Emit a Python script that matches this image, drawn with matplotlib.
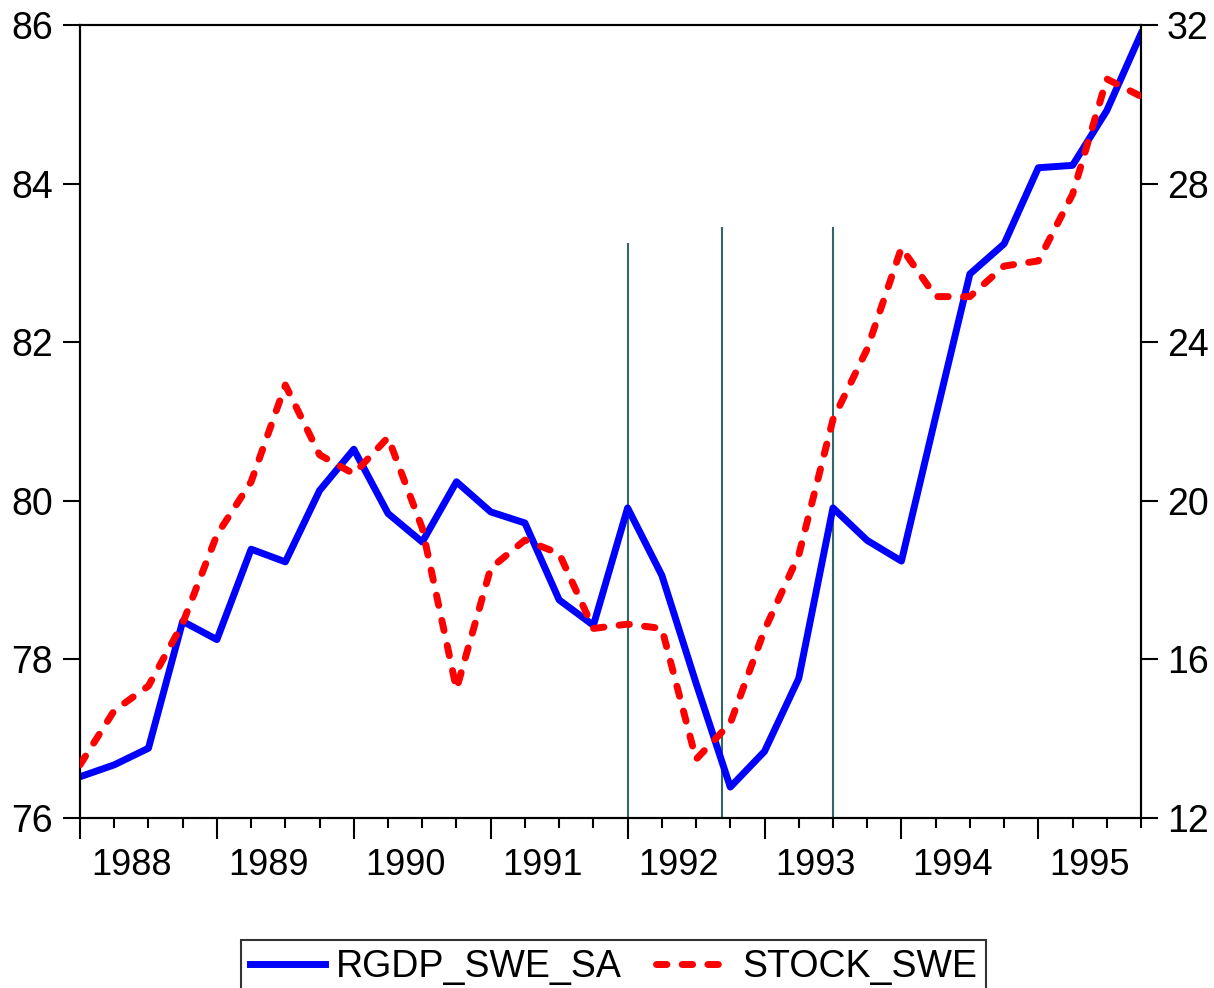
import numpy as np
import matplotlib
matplotlib.use('Agg')
import matplotlib.pyplot as plt
from matplotlib.lines import Line2D
import matplotlib.transforms as mtransforms

plt.rcParams['font.family'] = ['Liberation Sans', 'DejaVu Sans']

# quarterly series, 1988Q1 .. 1995Q4
years = [1988, 1989, 1990, 1991, 1992, 1993, 1994, 1995]
rgdp_swe_sa = [76.52, 76.67, 76.88, 78.48, 78.25, 79.39, 79.23, 80.13,
               80.65, 79.84, 79.48, 80.24, 79.86, 79.72, 78.75, 78.43,
               79.91, 79.06, 77.70, 76.39, 76.84, 77.76, 79.91, 79.50,
               79.24, 81.06, 82.86, 83.24, 84.20, 84.23, 84.92, 85.89]
stock_swe = [13.34, 14.71, 15.33, 16.91, 19.14, 20.48, 22.92, 21.16,
             20.68, 21.60, 19.31, 15.25, 18.30, 19.01, 18.67, 16.78,
             16.89, 16.78, 13.48, 14.39, 16.74, 18.63, 22.05, 23.83,
             26.38, 25.15, 25.15, 25.92, 26.05, 27.73, 30.64, 30.20]

# marker lines (quarter index) and their heights on the left scale
event_x = [16.0, 18.75, 22.0]
event_top = [83.25, 83.45, 83.45]

q = np.arange(len(rgdp_swe_sa))
dash = (0, (1.5, 2.2))

fig = plt.figure(figsize=(12.14, 9.88), dpi=100)
ax = fig.add_axes([80/1214, 170/988, 1061/1214, 793/988])
ax2 = ax.twinx()

ax.vlines(event_x, 76, event_top, color='#336666', lw=1.5, zorder=1)
ax.plot(q, rgdp_swe_sa, color='#0000ff', lw=5, solid_joinstyle='round', zorder=2)
ax2.plot(q, stock_swe, color='#ff0000', lw=5, linestyle=dash,
         dash_capstyle='round', zorder=3)

ax.set_xlim(0, 31)
ax.set_ylim(76, 86)
ax2.set_ylim(12, 32)
ax.set_yticks(np.arange(76, 87, 2))
ax2.set_yticks(np.arange(12, 33, 4))

ax.set_xticks(np.arange(0, 31, 4))
ax.set_xticks(q, minor=True)
ax.set_xticklabels([])
ax.tick_params(axis='x', which='major', direction='out', length=15, width=1.5)
ax.tick_params(axis='x', which='minor', direction='out', length=7, width=1.5)
ax.tick_params(axis='y', direction='out', length=12, width=1.5, labelsize=27, pad=7.5)
ax2.tick_params(axis='y', direction='out', length=12, width=1.5, labelsize=27, pad=6.5)

for a in (ax, ax2):
    for s in a.spines.values():
        s.set_linewidth(1.5)

# year labels centred over the four quarters of each year
trans = mtransforms.blended_transform_factory(ax.transData, ax.transAxes)
for k, yr in enumerate(years):
    ax.text(4*k + 1.5, -0.06, str(yr), transform=trans, ha='center', va='center', fontsize=26)

handles = [Line2D([], [], color='#0000ff', lw=5),
           Line2D([], [], color='#ff0000', lw=5, linestyle=dash, dash_capstyle='round')]
leg = fig.legend(handles, ['RGDP_SWE_SA', 'STOCK_SWE'], loc='upper center',
                 bbox_to_anchor=(613.5/1214, 48/988), ncol=2, fontsize=27,
                 frameon=True, fancybox=False, edgecolor='black', borderpad=0.25,
                 handlelength=2.0, handletextpad=0.3, columnspacing=0.9,
                 borderaxespad=0)
leg.get_frame().set_linewidth(1.5)

fig.savefig('out.png', dpi=100)
